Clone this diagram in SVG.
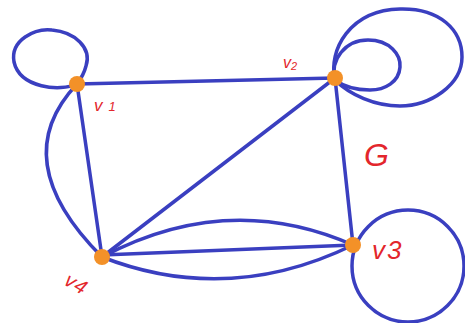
<svg xmlns="http://www.w3.org/2000/svg" width="465" height="323" viewBox="0 0 465 323">
<style>
.e{fill:none;stroke:#3a3fc0;stroke-width:3.5;stroke-linecap:round;stroke-linejoin:round}
.n{fill:#f39128}
.l{fill:#e3262c;font-family:"Liberation Sans",Arial,sans-serif;font-style:italic}
</style>
<rect width="465" height="323" fill="#ffffff"/>
<g id="connectors">
<path class="e" d="M77,84 C60,92 20,88 14,62 C10,40 35,28 52,30 C75,32 92,48 86,66 C84,74 80,80 77,84"/>
<path class="e" d="M335,80 C328,50 350,10 400,9 C440,8 462,30 462,57 C462,85 430,106 400,106 C375,106 350,95 335,80"/>
<path class="e" d="M335,80 C330,60 345,40 368,40 C390,40 401,55 400,67 C399,82 385,90 370,90 C355,90 343,86 335,80"/>
<circle class="e" cx="408" cy="266" r="56"/>
<line class="e" x1="77" y1="84" x2="335" y2="78"/>
<line class="e" x1="77" y1="84" x2="102" y2="257"/>
<path class="e" d="M77,84 Q5,160 102,257"/>
<line class="e" x1="335" y1="78" x2="102" y2="257"/>
<line class="e" x1="335" y1="78" x2="353" y2="245"/>
<line class="e" x1="102" y1="255" x2="353" y2="245"/>
<path class="e" d="M102,257 Q228,190 353,245"/>
<path class="e" d="M102,257 Q228,306 353,245"/>
</g>
<g id="v1"><circle class="n" cx="77" cy="84" r="8"/><text class="l" x="94" y="111" font-size="17">v<tspan font-size="13" dx="6">1</tspan></text></g>
<g id="v2"><circle class="n" cx="335" cy="78" r="8"/><text class="l" x="283" y="68" font-size="16">v<tspan font-size="11" dy="2">2</tspan></text></g>
<g id="v3"><circle class="n" cx="353" cy="245" r="8"/><text class="l" x="372" y="259" font-size="26">v<tspan dx="2">3</tspan></text></g>
<g id="v4"><circle class="n" cx="102" cy="257" r="8"/><text class="l" font-size="20" transform="translate(63,284) rotate(30)">v<tspan dx="1">4</tspan></text></g>
<g id="G"><text class="l" x="364" y="166" font-size="32" font-style="normal">G</text></g>
</svg>
